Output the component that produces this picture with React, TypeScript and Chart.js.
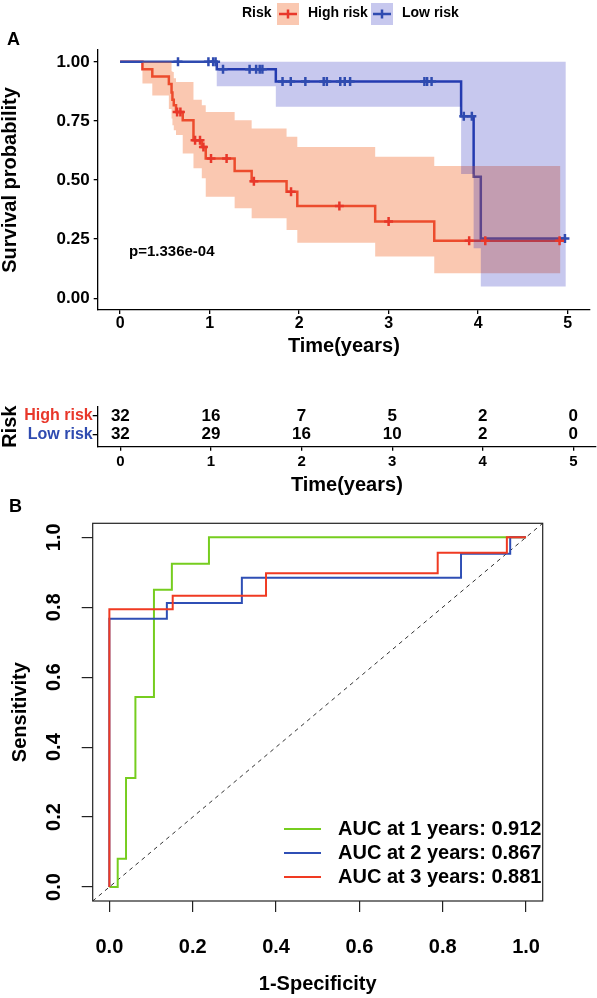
import React, { useEffect, useRef } from "react";
import { Chart, registerables } from "chart.js";
Chart.register(...registerables);

const FONT = '"Liberation Sans", Arial, Helvetica, sans-serif';
const RED = "#E8372A";
const BLUE = "#2F4BB0";
const RED_BAND = "rgba(243,110,50,0.38)";
const BLUE_BAND = "rgba(0,5,178,0.22)";
const ROC_GREEN = "#76CD1F";
const ROC_BLUE = "#2F4FB5";
const ROC_RED = "#F03A22";

// ---------- Panel A: Kaplan-Meier ----------
const highTimes = [0, 0.25, 0.36, 0.545, 0.575, 0.585, 0.6, 0.625, 0.7, 0.82, 0.913, 0.957, 1.28, 1.47, 1.86, 1.98, 2.85, 3.51, 4.92];
const highSurv = [1, 0.969, 0.938, 0.906, 0.87, 0.84, 0.816, 0.788, 0.753, 0.668, 0.64, 0.591, 0.538, 0.495, 0.45, 0.39, 0.324, 0.243, 0.243];
const highUpper = [1, 1, 1, 1, 0.96, 0.957, 0.93, 0.915, 0.915, 0.84, 0.816, 0.788, 0.753, 0.718, 0.683, 0.64, 0.598, 0.559, 0.559];
const highLower = [1, 0.908, 0.858, 0.8, 0.76, 0.732, 0.71, 0.69, 0.612, 0.55, 0.507, 0.429, 0.38, 0.338, 0.288, 0.235, 0.176, 0.106, 0.106];
const highCensor = [0.637, 0.674, 0.838, 0.893, 0.931, 1.016, 1.19, 1.495, 1.91, 2.45, 3.0, 3.9, 4.08, 4.91];

const lowTimes = [0, 1.08, 1.74, 3.81, 3.95, 4.03, 4.98];
const lowSurv = [1, 0.969, 0.917, 0.77, 0.514, 0.253, 0.253];
const lowUpper = [1, 1, 1, 1, 1, 1, 1];
const lowLower = [1, 0.897, 0.81, 0.525, 0.211, 0.049, 0.049];
const lowCensor = [0.647, 0.987, 1.04, 1.067, 1.15, 1.447, 1.52, 1.56, 1.59, 1.815, 1.907, 2.07, 2.275, 2.31, 2.46, 2.51, 2.57, 3.4, 3.43, 3.48, 3.84, 3.93, 4.97];

const kmXTicks = [0, 1, 2, 3, 4, 5];
const kmYTicks = [0, 0.25, 0.5, 0.75, 1];
const groupNames = ["High risk", "Low risk"];
const pValueText = "p=1.336e-04";

// ---------- Risk table ----------
const riskTimes = [0, 1, 2, 3, 4, 5];
const riskHigh = [32, 16, 7, 5, 2, 0];
const riskLow = [32, 29, 16, 10, 2, 0];

// ---------- Panel B: ROC ----------
const roc1Fpr = [0, 0.02, 0.04, 0.0625, 0.107, 0.15, 0.239, 1];
const roc1Tpr = [0, 0.081, 0.312, 0.543, 0.85, 0.924, 1, 1];
const roc2Fpr = [0, 0, 0.138, 0.318, 0.844, 0.962, 1];
const roc2Tpr = [0, 0.767, 0.812, 0.884, 0.953, 1, 1];
const roc3Fpr = [0, 0, 0.152, 0.376, 0.788, 0.954, 1];
const roc3Tpr = [0, 0.794, 0.833, 0.897, 0.956, 1, 1];
const aucLabels = ["AUC at 1 years: 0.912", "AUC at 2 years: 0.867", "AUC at 3 years: 0.881"];
const rocTicks = [0, 0.2, 0.4, 0.6, 0.8, 1.0];

function pts(xs: number[], ys: number[]) {
  return xs.map((x, i) => ({ x, y: ys[i] }));
}
function stepAt(times: number[], surv: number[], t: number) {
  let v = surv[0];
  for (let i = 0; i < times.length; i++) if (times[i] <= t) v = surv[i];
  return v;
}
function f(size: number, lineHeight = 1.2) {
  return { family: FONT, size, weight: "bold" as const, lineHeight };
}
const gridTicks = (tl: number) => ({
  display: true,
  drawOnChartArea: false,
  drawTicks: true,
  tickLength: tl,
  color: "#000",
  lineWidth: 1.3,
});

const kmDecor = {
  id: "kmDecor",
  afterDraw(chart: any) {
    const ctx = chart.ctx as CanvasRenderingContext2D;
    const xs = chart.scales.x;
    const ys = chart.scales.y;
    ctx.save();
    ctx.fillStyle = "#000";
    ctx.textBaseline = "middle";
    ctx.textAlign = "left";
    ctx.font = `bold 18px ${FONT}`;
    ctx.fillText("A", 7, 40);
    // p value
    ctx.font = `bold 15px ${FONT}`;
    ctx.fillText(pValueText, xs.getPixelForValue(0.1), ys.getPixelForValue(0.197));
    // legend
    ctx.font = `bold 14px ${FONT}`;
    ctx.fillText("Risk", 242, 13);
    const keys = [
      { x: 277, band: RED_BAND, line: RED, label: groupNames[0], tx: 308 },
      { x: 371, band: BLUE_BAND, line: BLUE, label: groupNames[1], tx: 402 },
    ];
    for (const k of keys) {
      ctx.fillStyle = k.band;
      ctx.fillRect(k.x, 3, 22, 22);
      ctx.strokeStyle = k.line;
      ctx.lineWidth = 2.5;
      ctx.beginPath();
      ctx.moveTo(k.x + 2, 14);
      ctx.lineTo(k.x + 20, 14);
      ctx.moveTo(k.x + 11, 9.5);
      ctx.lineTo(k.x + 11, 18.5);
      ctx.stroke();
      ctx.fillStyle = "#000";
      ctx.fillText(k.label, k.tx, 13);
    }
    ctx.restore();
  },
};

const tableDecor = {
  id: "tableDecor",
  afterDraw(chart: any) {
    const ctx = chart.ctx as CanvasRenderingContext2D;
    const xs = chart.scales.x;
    const ys = chart.scales.y;
    ctx.save();
    ctx.fillStyle = "#000";
    ctx.font = `bold 17px ${FONT}`;
    ctx.textAlign = "center";
    ctx.textBaseline = "middle";
    riskTimes.forEach((t, i) => {
      const px = xs.getPixelForValue(t);
      ctx.fillText(String(riskHigh[i]), px, ys.getPixelForValue(1));
      ctx.fillText(String(riskLow[i]), px, ys.getPixelForValue(2));
    });
    ctx.restore();
  },
};

const rocDecor = {
  id: "rocDecor",
  afterDraw(chart: any) {
    const ctx = chart.ctx as CanvasRenderingContext2D;
    const a = chart.chartArea;
    ctx.save();
    ctx.strokeStyle = "#222";
    ctx.lineWidth = 1.2;
    ctx.strokeRect(a.left, a.top, a.right - a.left, a.bottom - a.top);
    ctx.fillStyle = "#000";
    ctx.textBaseline = "middle";
    ctx.textAlign = "left";
    ctx.font = `bold 18px ${FONT}`;
    ctx.fillText("B", 9, 12.5);
    // legend
    const cols = [ROC_GREEN, ROC_BLUE, ROC_RED];
    ctx.font = `bold 20px ${FONT}`;
    aucLabels.forEach((lab, i) => {
      const y = 334 + i * 24;
      ctx.strokeStyle = cols[i];
      ctx.lineWidth = 2;
      ctx.beginPath();
      ctx.moveTo(284, y);
      ctx.lineTo(321, y);
      ctx.stroke();
      ctx.fillStyle = "#000";
      ctx.fillText(lab, 338, y);
    });
    ctx.restore();
  },
};

export default function App() {
  const kmRef = useRef<HTMLCanvasElement>(null);
  const tabRef = useRef<HTMLCanvasElement>(null);
  const rocRef = useRef<HTMLCanvasElement>(null);

  useEffect(() => {
    const charts: Chart[] = [];
    const common = {
      responsive: false,
      animation: false as const,
      events: [] as any[],
    };

    // ----- KM -----
    const kmX = {
      type: "linear" as const,
      min: -0.25,
      max: 5.25,
      afterBuildTicks: (s: any) => { s.ticks = kmXTicks.map((v) => ({ value: v })); },
      afterFit: (s: any) => { s.height = 50; },
      ticks: { color: "#000", font: f(16), padding: 0, autoSkip: false, maxRotation: 0, callback: (v: any) => String(v) },
      grid: gridTicks(4),
      border: { display: true, color: "#000", width: 1.3 },
      title: { display: true, text: "Time(years)", color: "#000", font: f(20), padding: { top: 0, bottom: 1.5 } },
    };
    charts.push(
      new Chart(kmRef.current!, {
        type: "line",
        data: {
          datasets: [
            {
              type: "scatter",
              label: "High risk censored",
              data: highCensor.map((t) => ({ x: t, y: stepAt(highTimes, highSurv, t) })),
              pointStyle: "cross",
              pointRadius: 4.5,
              borderColor: RED,
              backgroundColor: RED,
              borderWidth: 2.5,
              order: 0,
            } as any,
            {
              type: "scatter",
              label: "Low risk censored",
              data: lowCensor.map((t) => ({ x: t, y: stepAt(lowTimes, lowSurv, t) })),
              pointStyle: "cross",
              pointRadius: 4.5,
              borderColor: BLUE,
              backgroundColor: BLUE,
              borderWidth: 2.5,
              order: 0,
            } as any,
            {
              label: "Low upper",
              data: pts(lowTimes, lowUpper),
              stepped: "before",
              borderColor: "transparent",
              borderWidth: 0,
              pointRadius: 0,
              fill: "+1",
              backgroundColor: BLUE_BAND,
              order: 1,
            },
            {
              label: "Low lower",
              data: pts(lowTimes, lowLower),
              stepped: "before",
              borderColor: "transparent",
              borderWidth: 0,
              pointRadius: 0,
              fill: false,
              order: 1,
            },
            {
              label: "High upper",
              data: pts(highTimes, highUpper),
              stepped: "before",
              borderColor: "transparent",
              borderWidth: 0,
              pointRadius: 0,
              fill: "+1",
              backgroundColor: RED_BAND,
              order: 2,
            },
            {
              label: "High lower",
              data: pts(highTimes, highLower),
              stepped: "before",
              borderColor: "transparent",
              borderWidth: 0,
              pointRadius: 0,
              fill: false,
              order: 2,
            },
            {
              label: groupNames[1],
              data: pts(lowTimes, lowSurv),
              stepped: "before",
              borderColor: BLUE,
              borderWidth: 2.5,
              pointRadius: 0,
              fill: false,
              order: 3,
            },
            {
              label: groupNames[0],
              data: pts(highTimes, highSurv),
              stepped: "before",
              borderColor: RED,
              borderWidth: 2.5,
              pointRadius: 0,
              fill: false,
              order: 4,
            },
          ] as any,
        },
        options: {
          ...common,
          layout: { padding: { left: 0, top: 50, right: 1, bottom: 0 } },
          plugins: { legend: { display: false }, tooltip: { enabled: false } },
          scales: {
            x: kmX as any,
            y: {
              type: "linear",
              min: -0.05,
              max: 1.05,
              afterBuildTicks: (s: any) => { s.ticks = kmYTicks.map((v) => ({ value: v })); },
              afterFit: (s: any) => { s.width = 97.7; },
              ticks: { color: "#000", font: f(17), padding: 4, autoSkip: false, callback: (v: any) => Number(v).toFixed(2) },
              grid: gridTicks(4),
              border: { display: true, color: "#000", width: 1.3 },
              title: { display: true, text: "Survival probability", color: "#000", font: f(20, 1), padding: { top: 0, bottom: 0 } },
            } as any,
          },
        },
        plugins: [kmDecor],
      })
    );

    // ----- Risk table -----
    charts.push(
      new Chart(tabRef.current!, {
        type: "scatter",
        data: { datasets: [{ label: "table", data: [] }] },
        options: {
          ...common,
          layout: { padding: { left: 0, top: 46.7, right: 1, bottom: 0 } },
          plugins: { legend: { display: false }, tooltip: { enabled: false } },
          scales: {
            x: {
              ...kmX,
              afterFit: (s: any) => { s.height = 48.2; },
              ticks: { ...kmX.ticks, font: f(15), padding: 2.2 },
              title: { display: true, text: "Time(years)", color: "#000", font: f(20, 1), padding: { top: 0, bottom: 0 } },
            } as any,
            y: {
              type: "linear",
              reverse: true,
              min: 0.5,
              max: 2.656,
              afterBuildTicks: (s: any) => { s.ticks = [{ value: 1 }, { value: 2 }]; },
              afterFit: (s: any) => { s.width = 97.7; },
              ticks: {
                font: f(16),
                padding: 0,
                autoSkip: false,
                callback: (v: any) => groupNames[Number(v) - 1],
                color: (c: any) => (c.tick && c.tick.value === 1 ? RED : BLUE),
              },
              grid: gridTicks(5),
              border: { display: true, color: "#000", width: 1.3 },
              title: { display: true, text: "Risk", color: "#000", font: f(20, 1), padding: { top: 0, bottom: 0 } },
            } as any,
          },
        },
        plugins: [tableDecor],
      })
    );

    // ----- ROC -----
    const rocMin = -0.04;
    const rocMax = 1.04;
    const rocAxis = (isX: boolean) => ({
      type: "linear",
      min: rocMin,
      max: rocMax,
      afterBuildTicks: (s: any) => { s.ticks = rocTicks.map((v) => ({ value: v })); },
      afterFit: (s: any) => {
        if (isX) s.height = 97;
        else s.width = 92.7;
      },
      ticks: isX
        ? { color: "#000", font: f(20), padding: 23, autoSkip: false, maxRotation: 0, callback: (v: any) => Number(v).toFixed(1) }
        : { color: "#000", font: f(20), padding: 13.8, autoSkip: false, minRotation: 90, maxRotation: 90, crossAlign: "center", callback: (v: any) => Number(v).toFixed(1) },
      grid: { display: true, drawOnChartArea: false, drawTicks: true, tickLength: 11, color: "#222", lineWidth: 1.2 },
      border: { display: false },
      title: isX
        ? { display: true, text: "1-Specificity", color: "#000", font: f(20), padding: { top: 0, bottom: 2 } }
        : { display: true, text: "Sensitivity", color: "#000", font: f(20), padding: { top: 8, bottom: 0 } },
    });
    charts.push(
      new Chart(rocRef.current!, {
        type: "line",
        data: {
          datasets: [
            { label: aucLabels[2], data: pts(roc3Fpr, roc3Tpr), stepped: "before", borderColor: ROC_RED, borderWidth: 2, pointRadius: 0, fill: false, order: 0 },
            { label: aucLabels[1], data: pts(roc2Fpr, roc2Tpr), stepped: "before", borderColor: ROC_BLUE, borderWidth: 2, pointRadius: 0, fill: false, order: 1 },
            { label: aucLabels[0], data: pts(roc1Fpr, roc1Tpr), stepped: "before", borderColor: ROC_GREEN, borderWidth: 2, pointRadius: 0, fill: false, order: 2 },
            { label: "reference", data: [{ x: rocMin, y: rocMin }, { x: rocMax, y: rocMax }], borderColor: "#333", borderWidth: 1, borderDash: [4, 4], pointRadius: 0, fill: false, order: 3 },
          ] as any,
        },
        options: {
          ...common,
          layout: { padding: { left: 0, top: 28.3, right: 54.3, bottom: 0 } },
          plugins: { legend: { display: false }, tooltip: { enabled: false } },
          scales: { x: rocAxis(true) as any, y: rocAxis(false) as any },
        },
        plugins: [rocDecor],
      })
    );

    return () => charts.forEach((c) => c.destroy());
  }, []);

  return (
    <div style={{ position: "absolute", left: 0, top: 0, width: 597, height: 998, background: "#fff" }}>
      <canvas ref={kmRef} width={597} height={360} style={{ position: "absolute", left: 0, top: 0 }} />
      <canvas ref={tabRef} width={597} height={135} style={{ position: "absolute", left: 0, top: 360 }} />
      <canvas ref={rocRef} width={597} height={503} style={{ position: "absolute", left: 0, top: 495 }} />
    </div>
  );
}
